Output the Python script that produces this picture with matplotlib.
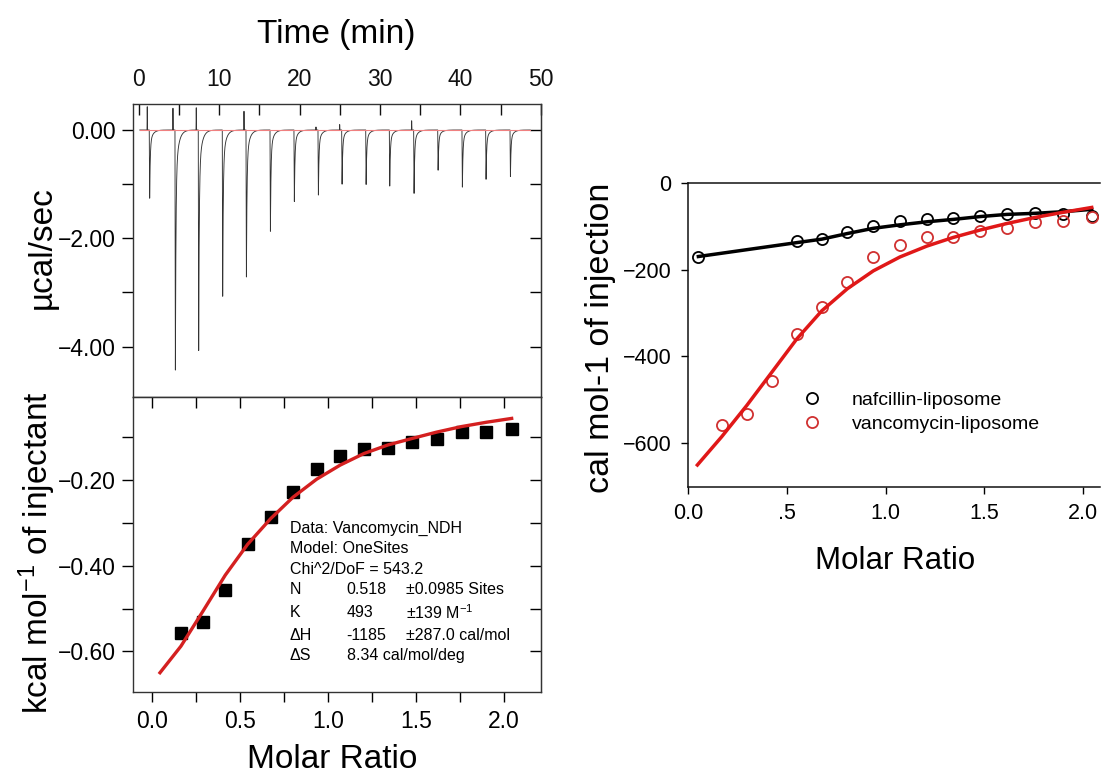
import numpy as np
import matplotlib
matplotlib.use('Agg')
import matplotlib.pyplot as plt
from matplotlib.ticker import MultipleLocator, FixedLocator, FuncFormatter, FixedFormatter

plt.rcParams['font.family'] = ['Liberation Sans', 'DejaVu Sans']
plt.rcParams['axes.unicode_minus'] = True

# ---------------- data ----------------
# raw thermogram: injection times (min), peak minima (ucal/sec), small positive pre-spikes
inj_time = [1.28, 4.48, 7.38, 10.37, 13.32, 16.31, 19.29, 22.28, 25.23, 28.22,
            31.16, 34.19, 37.18, 40.20, 43.15, 46.18]
inj_peak = [-1.29, -4.54, -4.17, -3.07, -2.78, -1.87, -1.32, -1.23, -1.00, -1.03,
            -1.06, -1.17, -0.76, -1.08, -0.91, -0.88]
inj_prespike = [0.46, 0.43, 0.44, 0.0, 0.37, 0.0, 0.0, 0.06, 0.10, 0.0,
                0.0, 0.17, 0.0, 0.0, 0.0, 0.0]
baseline_time = [0.1, 48.7]
baseline_power = [0.0, 0.0]

# integrated heats (kcal/mol of injectant)
ratio = [0.166, 0.293, 0.418, 0.545, 0.676, 0.803, 0.937, 1.071, 1.206, 1.342,
         1.478, 1.619, 1.761, 1.901, 2.045]
heat = [-0.558, -0.532, -0.457, -0.350, -0.287, -0.227, -0.173, -0.144, -0.128, -0.125,
        -0.111, -0.105, -0.088, -0.087, -0.081]
fit_ratio = [0.047, 0.166, 0.293, 0.418, 0.545, 0.676, 0.803, 0.937, 1.071, 1.206,
             1.342, 1.478, 1.619, 1.761, 1.901, 2.045]
fit_heat = [-0.650, -0.588, -0.505, -0.422, -0.350, -0.290, -0.240, -0.198, -0.165, -0.138,
            -0.118, -0.103, -0.088, -0.075, -0.065, -0.056]

# right panel (cal/mol of injection)
naf_ratio = [0.051, 0.549, 0.676, 0.806, 0.937, 1.072, 1.208, 1.342, 1.478, 1.613,
             1.756, 1.900, 2.043]
naf_heat = [-170, -135, -130, -113, -100.5, -88, -84, -80.6, -76, -72, -70.7, -73, -76.7]
naf_fit = [-170, -138, -130, -117, -105, -97, -90, -84.5, -78, -73, -70.5, -66.7, -61.4]

van_ratio = [0.169, 0.296, 0.422, 0.549, 0.676, 0.806, 0.937, 1.072, 1.208, 1.342,
             1.478, 1.613, 1.756, 1.900, 2.043]
van_heat = [-558, -533, -457, -349, -286, -228, -172, -143.5, -126, -126,
            -110.6, -105, -90, -88, -80]
van_fit_ratio = [0.046, 0.169, 0.296, 0.422, 0.549, 0.676, 0.806, 0.937, 1.072, 1.208,
                 1.342, 1.478, 1.613, 1.756, 1.900, 2.043]
van_fit = [-650, -585, -513, -437, -360, -295, -244, -203, -171, -146,
           -126, -109, -94, -80, -68, -57]

fit_lines = ["Data: Vancomycin_NDH", "Model: OneSites", "Chi^2/DoF = 543.2"]
param_rows = [("N", "0.518", "\u00b10.0985 Sites"),
              ("K", "493", "\u00b1139 $\\mathregular{M^{-1}}$"),
              ("\u0394H", "-1185", "\u00b1287.0 cal/mol"),
              ("\u0394S", "8.34 cal/mol/deg", "")]

# ---------------- figure ----------------
W, H = 1101, 776
fig = plt.figure(figsize=(W / 100, H / 100), dpi=100)


def rect(l, t, r, b):
    return [l / W, 1 - b / H, (r - l) / W, (b - t) / H]


def mfmt(fmt):
    return FuncFormatter(lambda v, p: (fmt % v).replace('-', '\u2212'))


SP = '#333333'
TL = 16.5  # tick label size

# ---- upper left: thermogram ----
ax1 = fig.add_axes(rect(132.7, 104, 540.7, 397))
t = np.arange(0.1, 48.7, 0.004)
pw = np.zeros_like(t)
for ti, pk, ps in zip(inj_time, inj_peak, inj_prespike):
    dt = t - ti
    ramp = (dt >= 0) & (dt < 0.05)
    pw[ramp] += pk * dt[ramp] / 0.05
    tail = dt >= 0.05
    d2 = dt[tail] - 0.05
    pw[tail] += pk * (0.8 * np.exp(-d2 / 0.07) + 0.2 * np.exp(-d2 / 0.35))
    if ps:
        ds = np.abs(t - (ti - 0.25))
        m = ds < 0.03
        pw[m] += ps * (1 - ds[m] / 0.03)
ax1.plot(t, pw, color='#333333', lw=0.65)
ax1.plot(baseline_time, baseline_power, color='#f08080', lw=0.8)
ax1.set_xlim(-0.78, 50)
ax1.set_ylim(-4.93, 0.48)
ax1.xaxis.tick_top()
ax1.xaxis.set_major_locator(MultipleLocator(10))
ax1.xaxis.set_minor_locator(MultipleLocator(5))
ax1.tick_params(axis='x', which='both', direction='in', length=8, width=1, top=True,
                bottom=False, labelsize=TL, pad=9, colors='#111111')
ax1.yaxis.set_major_locator(MultipleLocator(2))
ax1.yaxis.set_minor_locator(MultipleLocator(1))
ax1.yaxis.set_major_formatter(mfmt('%.2f'))
ax1.tick_params(axis='y', which='both', direction='out', length=8, width=1,
                labelsize=TL, pad=4)
sec1 = ax1.secondary_yaxis('right')
sec1.yaxis.set_major_locator(MultipleLocator(2))
sec1.yaxis.set_minor_locator(MultipleLocator(1))
sec1.tick_params(which='both', direction='in', length=8, width=1, labelright=False)
for s in ax1.spines.values():
    s.set_color(SP)
    s.set_linewidth(1.0)
sec1.spines['right'].set_color(SP)

# ---- lower left: integrated heats ----
ax2 = fig.add_axes(rect(132.7, 397, 540.7, 692))
ax2.plot(ratio, heat, 's', color='black', ms=8.5)
ax2.plot(fit_ratio, fit_heat, color='#d42020', lw=2.4)
ax2.set_xlim(-0.108, 2.21)
ax2.set_ylim(-0.695, -0.006)
ax2.xaxis.set_major_locator(MultipleLocator(0.5))
ax2.xaxis.set_minor_locator(MultipleLocator(0.25))
ax2.xaxis.set_major_formatter(FuncFormatter(lambda v, p: '%.1f' % v))
ax2.tick_params(axis='x', which='both', direction='out', length=7, width=1,
                labelsize=TL, pad=6)
ax2.yaxis.set_major_locator(MultipleLocator(0.2))
ax2.yaxis.set_minor_locator(MultipleLocator(0.1))
ax2.yaxis.set_major_formatter(mfmt('%.2f'))
ax2.tick_params(axis='y', which='both', direction='out', length=8, width=1,
                labelsize=TL, pad=4)
sec2y = ax2.secondary_yaxis('right')
sec2y.yaxis.set_major_locator(MultipleLocator(0.2))
sec2y.yaxis.set_minor_locator(MultipleLocator(0.1))
sec2y.tick_params(which='both', direction='in', length=8, width=1, labelright=False)
sec2x = ax2.secondary_xaxis('top')
sec2x.xaxis.set_major_locator(MultipleLocator(0.5))
sec2x.xaxis.set_minor_locator(MultipleLocator(0.25))
sec2x.tick_params(which='both', direction='in', length=8, width=1, labeltop=False)
for s in ax2.spines.values():
    s.set_color(SP)
    s.set_linewidth(1.0)
sec2y.spines['right'].set_color(SP)
sec2x.spines['top'].set_color(SP)

ys = [528.3, 548.7, 569.0, 590.0, 612.7, 635.0, 655.7]
AF = 11.5
for i, line in enumerate(fit_lines):
    fig.text(290 / W, 1 - ys[i] / H, line, fontsize=AF, va='center', ha='left')
for j, (a, b, c) in enumerate(param_rows):
    y = 1 - ys[3 + j] / H
    fig.text(290 / W, y, a, fontsize=AF, va='center', ha='left')
    fig.text(346.7 / W, y, b, fontsize=AF, va='center', ha='left')
    if c:
        fig.text(406 / W, y, c, fontsize=AF, va='center', ha='left')

# left-side labels
fig.text(336.7 / W, 1 - 34 / H, 'Time (min)', fontsize=24, ha='center', va='center')
fig.text(42 / W, 1 - 248 / H, '\u00b5cal/sec', fontsize=24, rotation=90,
         ha='center', va='center')
fig.text(37 / W, 1 - 553 / H, 'kcal $\\mathregular{mol^{-1}}$ of injectant', fontsize=24,
         rotation=90, ha='center', va='center')
fig.text(332 / W, 1 - 759 / H, 'Molar Ratio', fontsize=24, ha='center', va='center')

# ---- right panel ----
ax3 = fig.add_axes(rect(688.3, 182.7, 1100, 486.7))
ax3.plot(naf_ratio, naf_heat, 'o', mfc='none', mec='black', ms=8, mew=1.3,
         label='nafcillin-liposome')
ax3.plot(van_ratio, van_heat, 'o', mfc='none', mec='#d03030', ms=8, mew=1.3,
         label='vancomycin-liposome')
ax3.plot(naf_ratio, naf_fit, color='black', lw=2.5)
ax3.plot(van_fit_ratio, van_fit, color='#e01818', lw=2.5)
ax3.set_xlim(0, 2.085)
ax3.set_ylim(-700, 0)
ax3.xaxis.set_major_locator(FixedLocator([0, 0.5, 1.0, 1.5, 2.0]))
ax3.xaxis.set_major_formatter(FixedFormatter(['0.0', '.5', '1.0', '1.5', '2.0']))
ax3.yaxis.set_major_locator(FixedLocator([0, -200, -400, -600]))
ax3.yaxis.set_major_formatter(mfmt('%d'))
ax3.tick_params(which='both', direction='out', length=5, width=1, labelsize=15.5, pad=7)
ax3.spines['right'].set_visible(False)
for s in ['left', 'bottom', 'top']:
    ax3.spines[s].set_linewidth(1.1)
    ax3.spines[s].set_color('#111111')
ax3.legend(loc='upper left', bbox_to_anchor=(802 / W, 1 - 391 / H),
           bbox_transform=fig.transFigure, frameon=False, fontsize=14,
           handlelength=1.0, handletextpad=1.56, labelspacing=0.35,
           borderpad=0, borderaxespad=0, numpoints=1)

fig.text(895 / W, 1 - 561 / H, 'Molar Ratio', fontsize=22.5, ha='center', va='center')
fig.text(600 / W, 1 - 338 / H, 'cal mol-1 of injection', fontsize=24.5, rotation=90,
         ha='center', va='center')

fig.savefig('out.png', dpi=100)
